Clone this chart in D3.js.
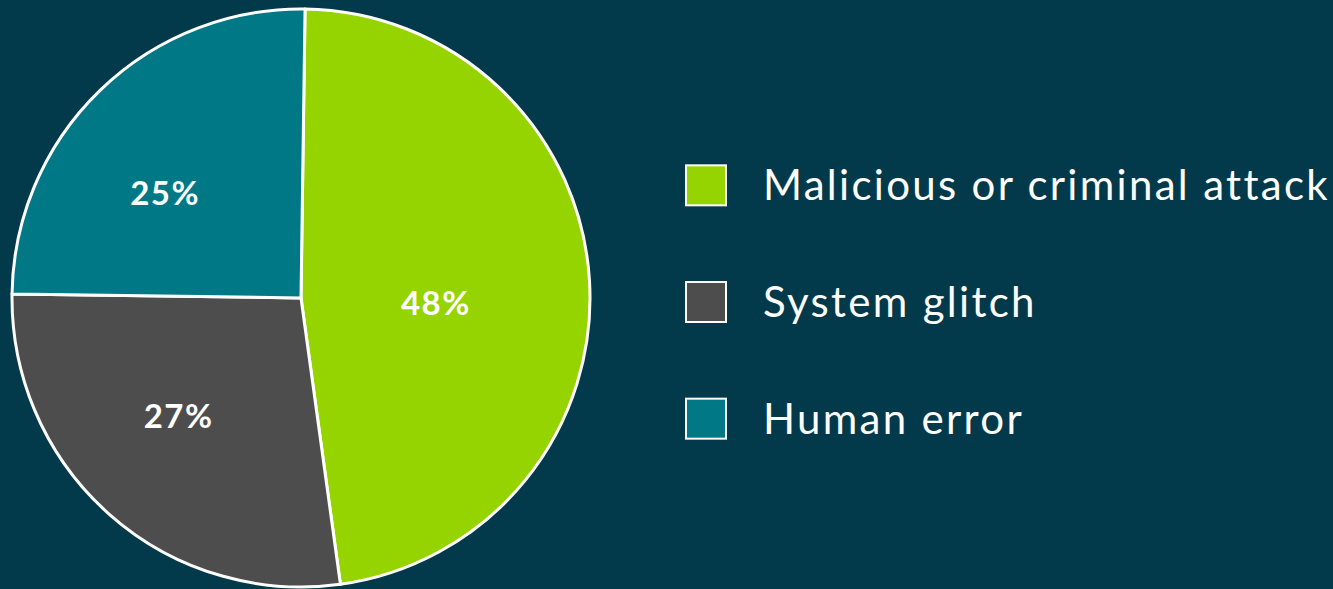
<!DOCTYPE html>
<html>
<head>
<meta charset="utf-8">
<script src="https://cdn.jsdelivr.net/npm/d3@7"></script>
<style>
  html, body { margin: 0; padding: 0; background: #023a4b; }
  svg { display: block; }
</style>
</head>
<body>
<svg id="svg_pie"></svg>
<script>
let pieWidth = 1333;
let pieHeight = 589;

// data
let categories = ["Malicious or criminal attack", "System glitch", "Human error"];
let shares = [47.6, 27.4, 25.0];
let sliceColors = ["#96d400", "#4d4d4d", "#007885"];

// layout
let cx = 301, cy = 298, radius = 289;
let startOffset = 0.014; // pie starts a hair right of 12 o'clock
let labelNudge = [0.10, 0.08, -0.14]; // angle nudges (rad) for the labels
let labelRadius = [135, 170, 172];

let svgPie = d3.select("#svg_pie")
    .attr("width", pieWidth)
    .attr("height", pieHeight);

let pie = d3.pie()
    .sort(null)
    .startAngle(startOffset)
    .endAngle(startOffset + 2 * Math.PI);

let arcs = pie(shares);

let arc = d3.arc()
    .innerRadius(0)
    .outerRadius(radius);

let pieG = svgPie.append("g")
    .attr("transform", "translate(" + cx + "," + cy + ")");

pieG.selectAll("path")
    .data(arcs)
    .enter().append("path")
    .attr("d", arc)
    .attr("fill", (d, i) => sliceColors[i])
    .attr("stroke", "white")
    .attr("stroke-width", 3)
    .attr("stroke-linejoin", "round");

// percentage labels
pieG.selectAll("text")
    .data(arcs)
    .enter().append("text")
    .attr("x", (d, i) => labelRadius[i] * Math.sin((d.startAngle + d.endAngle) / 2 + labelNudge[i]))
    .attr("y", (d, i) => -labelRadius[i] * Math.cos((d.startAngle + d.endAngle) / 2 + labelNudge[i]))
    .attr("dy", "0.36em")
    .attr("text-anchor", "middle")
    .attr("fill", "white")
    .style("font-family", "Lato, 'Open Sans', sans-serif")
    .style("font-weight", "bold")
    .style("font-size", "33px")
    .style("letter-spacing", "1.5px")
    .text(d => Math.round(d.data) + "%");

// legend
let legendY = d3.scaleBand()
    .domain(categories)
    .range([127, 477]);

let legendG = svgPie.append("g")
    .selectAll("g")
    .data(categories)
    .enter().append("g")
    .attr("transform", d => "translate(686," + (legendY(d) + legendY.bandwidth() / 2) + ")");

legendG.append("rect")
    .attr("x", 0)
    .attr("y", -20)
    .attr("width", 40)
    .attr("height", 40)
    .attr("fill", (d, i) => sliceColors[i])
    .attr("stroke", "white")
    .attr("stroke-width", 2);

legendG.append("text")
    .attr("x", 77)
    .attr("dy", "0.36em")
    .attr("fill", "white")
    .style("font-family", "Lato, 'Open Sans', sans-serif")
    .style("font-size", "42px")
    .style("letter-spacing", "2.3px")
    .text(d => d);
</script>
</body>
</html>
